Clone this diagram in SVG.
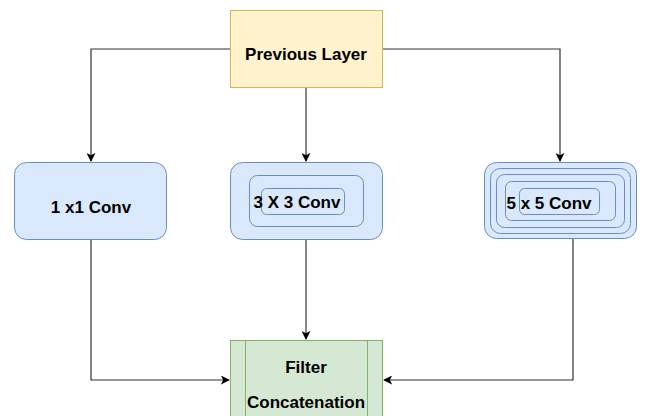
<svg xmlns="http://www.w3.org/2000/svg" width="645" height="416" viewBox="0 0 645 416">
<style>
.t{font-family:"Liberation Sans",Arial,Helvetica,sans-serif;font-weight:bold;font-size:17px;fill:#000;text-anchor:middle}
.b{fill:#dae8fc;stroke:#6c8ebf;stroke-width:1}
.e{fill:none;stroke:#333;stroke-width:1.2}
</style>
<defs>
<marker id="ah" viewBox="0 0 10 10" refX="9" refY="5" markerWidth="9" markerHeight="9" markerUnits="userSpaceOnUse" orient="auto">
<path d="M0,0 L10,5 L0,10 L2.5,5 Z" fill="#000"/>
</marker>
</defs>
<rect width="645" height="416" fill="#fff"/>
<g id="connectors">
<path class="e" d="M230,49 H91 V161" marker-end="url(#ah)"/>
<path class="e" d="M306,87 V161" marker-end="url(#ah)"/>
<path class="e" d="M383,49 H560 V161" marker-end="url(#ah)"/>
<path class="e" d="M91,239 V380 H229" marker-end="url(#ah)"/>
<path class="e" d="M306,239 V339" marker-end="url(#ah)"/>
<path class="e" d="M573,239 V380 H384" marker-end="url(#ah)"/>
</g>
<g id="previous-layer">
<rect x="230.5" y="10.5" width="152" height="77" fill="#fff2cc" stroke="#d6b656"/>
<text class="t" x="306" y="60">Previous Layer</text>
</g>
<g id="conv1x1">
<rect class="b" x="14.5" y="162.5" width="152" height="77" rx="12"/>
<text class="t" x="91" y="213">1 x1 Conv</text>
</g>
<g id="conv3x3">
<rect class="b" x="230.5" y="162.5" width="152" height="77" rx="12"/>
<rect class="b" x="249.5" y="175.5" width="114" height="51" rx="8"/>
<rect class="b" x="261.5" y="188.5" width="83" height="26" rx="5"/>
<text class="t" x="297" y="208">3 X 3 Conv</text>
</g>
<g id="conv5x5">
<rect class="b" x="484.5" y="162.5" width="152" height="76" rx="12"/>
<rect class="b" x="490.5" y="168.5" width="140" height="65" rx="10"/>
<rect class="b" x="496.5" y="174.5" width="128" height="53" rx="8"/>
<rect class="b" x="505.5" y="181.5" width="110" height="39" rx="6"/>
<rect class="b" x="519.5" y="188.5" width="80" height="26" rx="5"/>
<text class="t" x="549" y="208.5">5 x 5 Conv</text>
</g>
<g id="filter-concatenation">
<rect x="230.5" y="340.5" width="152" height="90" fill="#d5e8d4" stroke="#82b366"/>
<line x1="245.5" y1="340.5" x2="245.5" y2="430" stroke="#82b366"/>
<line x1="367.5" y1="340.5" x2="367.5" y2="430" stroke="#82b366"/>
<text class="t" x="306" y="372.5">Filter</text>
<text class="t" x="306" y="407.5">Concatenation</text>
</g>
</svg>
